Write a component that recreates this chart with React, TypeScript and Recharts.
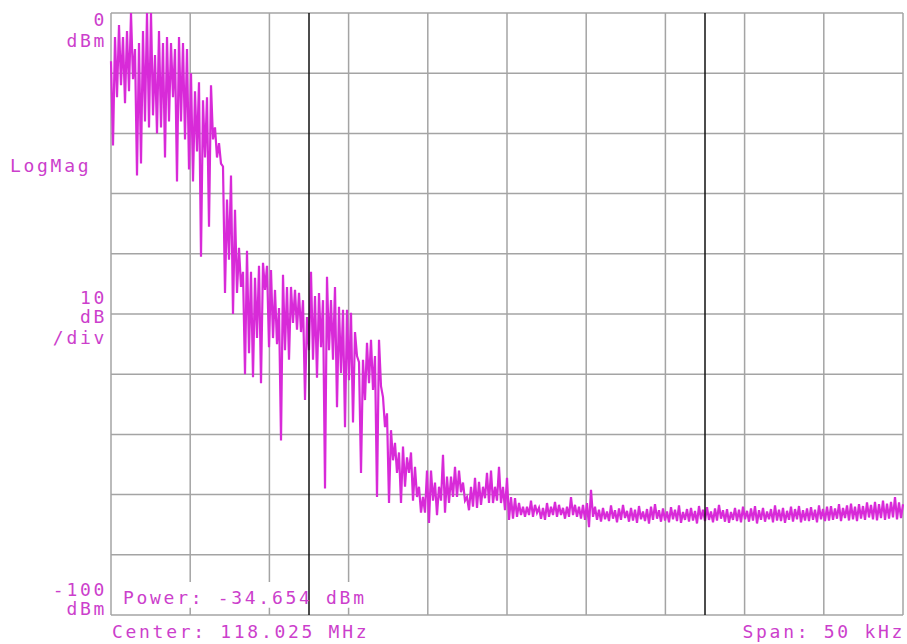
import { LineChart, Line, XAxis, YAxis, CartesianGrid, ReferenceLine, ReferenceArea } from 'recharts'

// peak/pit detector readout, dBm, 199 buckets across the span
const TRACE_HI = [
  // 0 - 5 kHz
  -8, -4, -2, -4, -3, 0, -6, -5, -3, 0, 0, -7, -3, -5, -4, -5, -6, -4, -5, -6,
  // 5 - 10 kHz
  -10, -13, -11.5, -14.5, -14, -12, -19, -21.6, -25.5, -31, -27, -32.7, -39, -43, -39.5, -43, -44, -42, -41.5, -42,
  // 10 - 15 kHz
  -42.7, -46, -49, -43.5, -45.5, -45.5, -46, -46.5, -47.7, -50.5, -43, -47, -46.5, -47.7, -43.8, -47.7, -45.5, -48.8, -49.3, -49.3,
  // 15 - 20 kHz
  -49.8, -53, -58, -57.6, -54.8, -54.3, -57, -54.3, -63.8, -66.5, -69.3, -71.4, -73, -72, -73.8, -73, -75.4, -78.7, -80.4, -76,
  // 20 - 25 kHz
  -76, -78, -78.7, -73.4, -77, -77, -75.4, -76, -78, -80.4, -78.7, -77.2, -77.9, -78.7, -76.4, -76, -78.7, -75.4, -78.7, -77.2,
  // 25 - 30 kHz
  -80.4, -80.6, -81.4, -82, -82, -81, -81.7, -82.2, -82.2, -81.4, -82, -81.2, -81.7, -82.2, -82, -80.4, -81.7, -82, -81.7, -81.4,
  // 30 - 50 kHz
  -79.2, -82, -82.5, -82.2, -82.8, -81.8, -82.6, -82.3, -81.7, -82.7, -82.2, -82.5, -81.9, -82.8, -82.4, -82, -81.6, -82.6, -82.3, -82.8,
  -82.1, -82.5, -81.8, -82.9, -82.4, -82.2, -82.7, -81.9, -82.5, -82.1, -82.8, -82.3, -81.7, -82.6, -82.4, -82.9, -82.2, -82.5, -82, -82.7,
  -82.3, -81.9, -82.6, -82.2, -82.8, -82.4, -81.8, -82.5, -82.2, -82.7, -82, -82.4, -81.9, -82.6, -82.3, -82.1, -82.5, -81.8, -82.4, -82,
  -81.9, -82.3, -81.6, -82.2, -81.8, -81.5, -82, -81.6, -81.9, -81.3, -81.7, -81.2, -81.6, -81, -81.5, -81.2, -80.4, -81.3, -81.6,
]

const TRACE_LO = [
  // 0 - 5 kHz
  -22, -14, -12, -15, -13, -11, -27, -25, -18, -19, -17, -20, -19, -24, -18, -14, -28, -18, -21, -26,
  // 5 - 10 kHz
  -28, -23, -40.5, -24, -35.5, -21, -24, -25, -46.5, -41, -50, -46.5, -45.5, -60, -56.5, -60.5, -54, -61.5, -46, -55.5,
  // 10 - 15 kHz
  -54, -55, -71, -56, -57.6, -51.5, -52.6, -53, -64.3, -56, -57.6, -60.6, -55.5, -79, -56, -57.6, -65.5, -59.8, -68.8, -61,
  // 15 - 20 kHz
  -68, -57, -76.4, -64.3, -61.5, -62.6, -80.4, -62, -68.8, -81.4, -74.3, -76.4, -81.4, -78.7, -76.4, -81, -80.4, -83, -83, -84.7,
  // 20 - 25 kHz
  -81, -83.4, -81, -83, -81.4, -80.4, -80.4, -79.6, -81, -82.6, -82, -82.2, -81.7, -80.6, -81.4, -81.4, -81, -81.4, -82.6, -84.2,
  // 25 - 30 kHz
  -84, -83.7, -83.4, -83.7, -83.4, -83.7, -83, -84, -84.2, -83.7, -83.4, -83.7, -83.4, -84, -83.7, -83.4, -83.7, -84, -84.2, -85.4,
  // 30 - 50 kHz
  -83.7, -84.2, -84.5, -84.1, -84.4, -84, -84.6, -84.2, -83.9, -84.5, -84.3, -84.7, -84.1, -84.4, -84.8, -84.2, -84, -84.5, -84.3, -84.6,
  -84.1, -84.4, -84.7, -84.2, -84.5, -84.3, -84.8, -84.1, -84.4, -84.2, -84.6, -84.3, -84, -84.5, -84.7, -84.2, -84.4, -84.6, -84.1, -84.5,
  -84.3, -84.8, -84.2, -84.5, -84.1, -84.6, -84.3, -84.4, -84.7, -84.2, -84.5, -84.1, -84.6, -84.3, -84.4, -84.2, -84.6, -84.1, -84.4, -84.3,
  -84.2, -84, -84.4, -83.9, -84.3, -84.1, -84.4, -84, -84.2, -83.8, -84.1, -84.3, -83.9, -84.2, -84, -83.8, -84.1, -83.9, -84,
]

const SPAN_KHZ = 50
const FREQ_TICKS = [0, 5, 10, 15, 20, 25, 30, 35, 40, 45, 50]
const LEVEL_TICKS = [-100, -90, -80, -70, -60, -50, -40, -30, -20, -10, 0]
const MARKERS_KHZ = [12.5, 37.5]

// each bucket: peak at its start, pit half a bucket later
const STEP = SPAN_KHZ / (TRACE_HI.length - 1)
const data = TRACE_HI.flatMap((hi, k) => {
  const f = k * STEP
  const pts = [{ f, v: hi }]
  if (k < TRACE_HI.length - 1) pts.push({ f: f + STEP / 2, v: TRACE_LO[k] })
  return pts
})

const INK = '#cc3fcc'
const FONT = { fontFamily: '"DejaVu Sans Mono", monospace', fontSize: 18, letterSpacing: 2.7, fill: INK }

export default function App() {
  return (
    <div style={{ position: 'absolute', left: 0, top: 0, width: 907, height: 644, background: '#fff' }}>
      <LineChart width={907} height={644} data={data} margin={{ top: 13, right: 4, bottom: 29, left: 111 }}>
        <XAxis dataKey="f" type="number" domain={[0, SPAN_KHZ]} ticks={FREQ_TICKS} hide />
        <YAxis type="number" domain={[-100, 0]} ticks={LEVEL_TICKS} hide />
        <CartesianGrid stroke="#a4a4a4" strokeWidth={1.5} />
        <ReferenceArea x1={0.1} x2={17.7} y1={-98.8} y2={-94.5} fill="#fff" fillOpacity={1} stroke="none" />
        <Line dataKey="v" type="linear" stroke="#d82ad8" strokeWidth={2.2} strokeLinejoin="miter" dot={false} isAnimationActive={false} />
        {MARKERS_KHZ.map(m => <ReferenceLine key={m} x={m} stroke="#111" strokeWidth={1.5} />)}
      </LineChart>
      <svg width={907} height={644} style={{ position: 'absolute', left: 0, top: 0, pointerEvents: 'none' }}>
        <text x={107} y={26} textAnchor="end" style={FONT}>0</text>
        <text x={107} y={47} textAnchor="end" style={FONT}>dBm</text>
        <text x={10} y={172} style={FONT}>LogMag</text>
        <text x={107} y={304} textAnchor="end" style={FONT}>10</text>
        <text x={107} y={323} textAnchor="end" style={FONT}>dB</text>
        <text x={107} y={344} textAnchor="end" style={FONT}>/div</text>
        <text x={107} y={596} textAnchor="end" style={FONT}>-100</text>
        <text x={107} y={615} textAnchor="end" style={FONT}>dBm</text>
        <text x={123} y={604} style={FONT}>Power: -34.654 dBm</text>
        <text x={112} y={638} style={FONT}>Center: 118.025 MHz</text>
        <text x={905} y={638} textAnchor="end" style={FONT}>Span: 50 kHz</text>
      </svg>
    </div>
  )
}
